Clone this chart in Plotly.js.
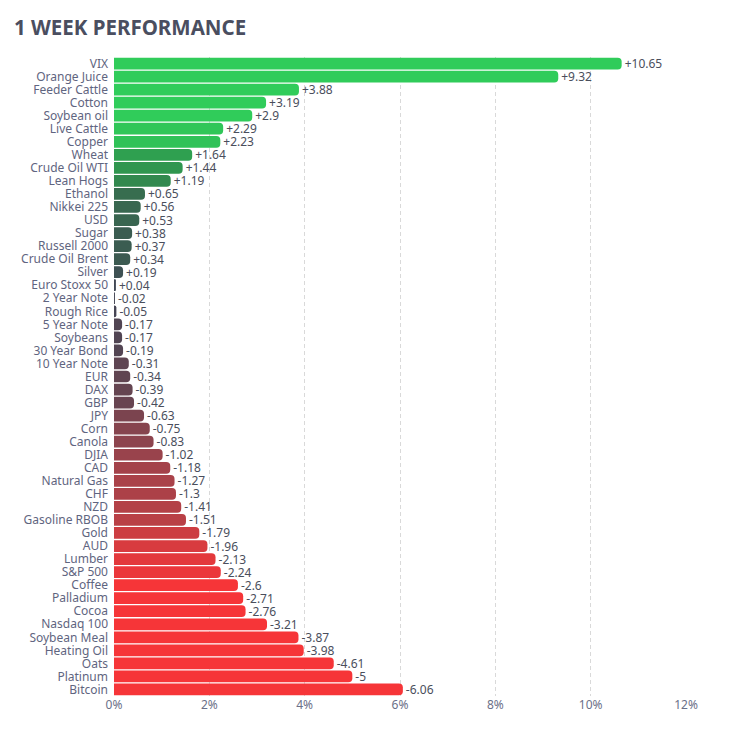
<!DOCTYPE html>
<html><head><meta charset="utf-8">
<script src="https://cdn.plot.ly/plotly-3.0.1.min.js"></script>
<style>html,body{margin:0;padding:0;background:#fff}#chart{width:734px;height:729px}</style>
</head><body><div id="chart"></div>
<script>
const names = ["VIX","Orange Juice","Feeder Cattle","Cotton","Soybean oil","Live Cattle","Copper","Wheat","Crude Oil WTI","Lean Hogs","Ethanol","Nikkei 225","USD","Sugar","Russell 2000","Crude Oil Brent","Silver","Euro Stoxx 50","2 Year Note","Rough Rice","5 Year Note","Soybeans","30 Year Bond","10 Year Note","EUR","DAX","GBP","JPY","Corn","Canola","DJIA","CAD","Natural Gas","CHF","NZD","Gasoline RBOB","Gold","AUD","Lumber","S&P 500","Coffee","Palladium","Cocoa","Nasdaq 100","Soybean Meal","Heating Oil","Oats","Platinum","Bitcoin"];
const changes = [10.65,9.32,3.88,3.19,2.9,2.29,2.23,1.64,1.44,1.19,0.65,0.56,0.53,0.38,0.37,0.34,0.19,0.04,-0.02,-0.05,-0.17,-0.17,-0.19,-0.31,-0.34,-0.39,-0.42,-0.63,-0.75,-0.83,-1.02,-1.18,-1.27,-1.3,-1.41,-1.51,-1.79,-1.96,-2.13,-2.24,-2.6,-2.71,-2.76,-3.21,-3.87,-3.98,-4.61,-5,-6.06];
const tickVals = [0,2,4,6,8,10,12];
const tickText = ["0%","2%","4%","6%","8%","10%","12%"];

const labels = changes.map(v => (v > 0 ? "+" : "") + v);
const font = "'Noto Sans', sans-serif";

Plotly.newPlot("chart", [{
  type: "bar",
  orientation: "h",
  y: names,
  x: changes.map(Math.abs),
  text: labels,
  textposition: "outside",
  constraintext: "none",
  cliponaxis: false,
  textfont: {family: font, size: 12, color: "#4a4e5c"},
  hoverinfo: "none",
  marker: {
    color: changes,
    cmin: -2.4, cmax: 2.4,
    colorscale: [[0,"#f63538"],[0.1667,"#bf4045"],[0.3333,"#8b444e"],[0.5,"#414554"],[0.6667,"#35764e"],[0.8333,"#2f9e4f"],[1,"#30cc5a"]],
    cornerradius: 4,
    line: {width: 0}
  }
}], {
  width: 734, height: 729,
  margin: {l: 114, r: 48, t: 57, b: 33},
  paper_bgcolor: "#fff", plot_bgcolor: "#fff",
  bargap: 0.1,
  showlegend: false,
  title: {text: "<b>1 WEEK PERFORMANCE</b>", x: 0.019, xanchor: "left", y: 0.962, yanchor: "middle",
          font: {family: font, size: 20.5, color: "#4a4e60"}},
  xaxis: {range: [0, 12], tickvals: tickVals, ticktext: tickText, showgrid: true,
          gridcolor: "#d9d9d9", griddash: "4px,3px", gridwidth: 1, zeroline: false, showline: false,
          tickfont: {family: font, size: 12, color: "#6b7088"}, fixedrange: true},
  yaxis: {autorange: "reversed", type: "category", showgrid: false, zeroline: false,
          tickmode: "array", tickvals: names, ticktext: names, ticklabelstandoff: 5,
          tickfont: {family: font, size: 12, color: "#5f6580"}, ticks: "", ticklen: 0, automargin: false},
  font: {family: font}
}, {displayModeBar: false, staticPlot: true});
</script></body></html>
